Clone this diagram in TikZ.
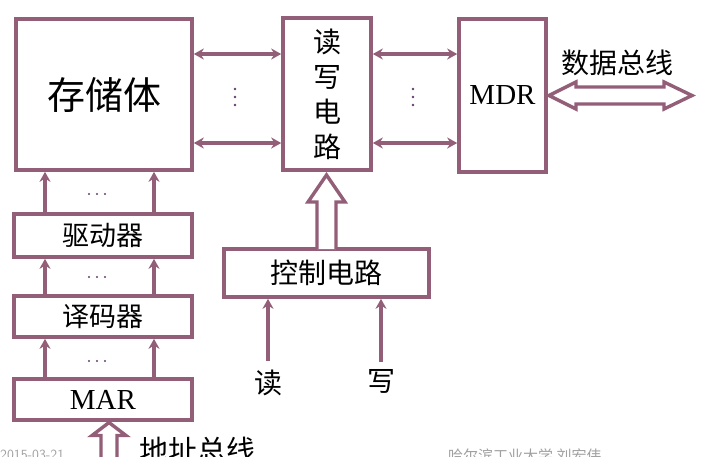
\documentclass[tikz,border=0pt]{standalone}
\usepackage{fontspec}
\setmainfont{Liberation Serif}
\newfontfamily\cjk{Noto Sans CJK SC}
\usetikzlibrary{arrows.meta}
\definecolor{wire}{RGB}{146,94,120}
\definecolor{note}{RGB}{160,160,160}
\definecolor{dotc}{RGB}{100,60,110}
\tikzset{
  blk/.style={draw=wire, line width=3.8pt, fill=white, inner sep=0pt, outer sep=0pt},
  sig/.style={draw=wire, line width=3.5pt, -{Stealth[length=10pt,width=11pt]}, shorten >=1.8pt},
  bisig/.style={draw=wire, line width=3.5pt, {Stealth[length=10pt,width=11pt]}-{Stealth[length=10pt,width=11pt]}, shorten >=1.8pt, shorten <=1.8pt},
  bus/.style={draw=wire, line width=3.4pt, fill=white, line join=miter},
  lbl/.style={inner sep=0pt, font=\cjk\fontsize{28}{28}\selectfont}
}
\begin{document}
\begin{tikzpicture}[x=1pt, y=-1pt]
\useasboundingbox (0,0) rectangle (704,456);
\clip (0,0) rectangle (704,456);

% memory blocks
\node[blk, minimum width=176pt, minimum height=151pt] (store) at (104,94.5)
  {\cjk\fontsize{38}{38}\selectfont 存储体};
\node[blk, minimum width=88pt, minimum height=152pt, align=center,
      font=\cjk\fontsize{28}{35}\selectfont] (rw) at (327,94) {读\\写\\电\\路};
\node[blk, minimum width=87pt, minimum height=153pt] (mdr) at (502.5,95.5)
  {\fontsize{29}{29}\selectfont MDR};
\node[blk, minimum width=178pt, minimum height=43pt] (drv) at (103,235.5)
  {\cjk\fontsize{27}{27}\selectfont 驱动器};
\node[blk, minimum width=178pt, minimum height=41pt] (dec) at (103,316.5)
  {\cjk\fontsize{27}{27}\selectfont 译码器};
\node[blk, minimum width=178pt, minimum height=41pt] (mar) at (103,399.5)
  {\fontsize{29}{29}\selectfont MAR};
\node[blk, minimum width=205pt, minimum height=48pt] (ctl) at (326.5,273)
  {\cjk\fontsize{28}{28}\selectfont 控制电路};

% data lines between memory, read/write circuit and MDR
\draw[bisig] ([yshift=40.5pt]store.east) -- ([yshift=40.5pt]store.east -| rw.west);
\draw[bisig] ([yshift=-48.5pt]store.east) -- ([yshift=-48.5pt]store.east -| rw.west);
\draw[bisig] ([yshift=40pt]rw.east) -- ([yshift=40pt]rw.east -| mdr.west);
\draw[bisig] ([yshift=-49pt]rw.east) -- ([yshift=-49pt]rw.east -| mdr.west);
\foreach \yy in {89,97,105} {
  \fill[dotc] (235,\yy) circle (1.4pt);
  \fill[dotc] (413,\yy) circle (1.4pt);
}

% address path columns
\coordinate (cL) at (45,0);
\coordinate (cR) at (154,0);
\foreach \c in {cL,cR} {
  \draw[sig] (mar.north -| \c) -- (dec.south -| \c);
  \draw[sig] (dec.north -| \c) -- (drv.south -| \c);
  \draw[sig] (drv.north -| \c) -- (store.south -| \c);
}
\foreach \yy in {194,277,361} {
  \foreach \xx in {89,97,105} \fill[dotc] (\xx,\yy) circle (1.2pt);
}

% control circuit to read/write circuit
\draw[bus] ([xshift=-9.5pt]ctl.north) -- ++(0,-47) -- ++(-9,0) -- ++(18.5,-27)
  -- ++(18.5,27) -- ++(-9,0) -- ++(0,47);

% read / write inputs
\node[lbl] (rd) at (268,383) {读};
\node[lbl] (wr) at (381,381) {写};
\draw[sig] ([yshift=9pt]rd.north) -- (rd.north |- ctl.south);
\draw[sig] ([yshift=7pt]wr.north) -- (wr.north |- ctl.south);

% data bus
\node[lbl] (dbus) at (617,63) {数据总线};
\draw[bus] ([xshift=3pt]mdr.east) -- ++(27,-13.5) -- ++(0,5) -- ++(88,0) -- ++(0,-5)
  -- ++(28,13.5) -- ++(-28,13.5) -- ++(0,-5) -- ++(-88,0) -- ++(0,5) -- cycle;

% address bus
\draw[bus] ([xshift=6pt,yshift=-2.5pt]mar.south) -- ++(17,13) -- ++(-9,0) -- ++(0,40)
  -- ++(-16,0) -- ++(0,-40) -- ++(-9,0) -- cycle;
\node[lbl, anchor=north west, font=\cjk\fontsize{29}{29}\selectfont] (abus) at (139,437) {地址总线};

% footer
\node[anchor=north west, inner sep=0pt, text=note, font=\fontsize{14}{14}\selectfont\sffamily] (date) at (0,450) {2015-03-21};
\node[anchor=north west, inner sep=0pt, text=note, font=\cjk\fontsize{15}{15}\selectfont] (who) at (448,449) {哈尔滨工业大学\ 刘宏伟};
\end{tikzpicture}
\end{document}
